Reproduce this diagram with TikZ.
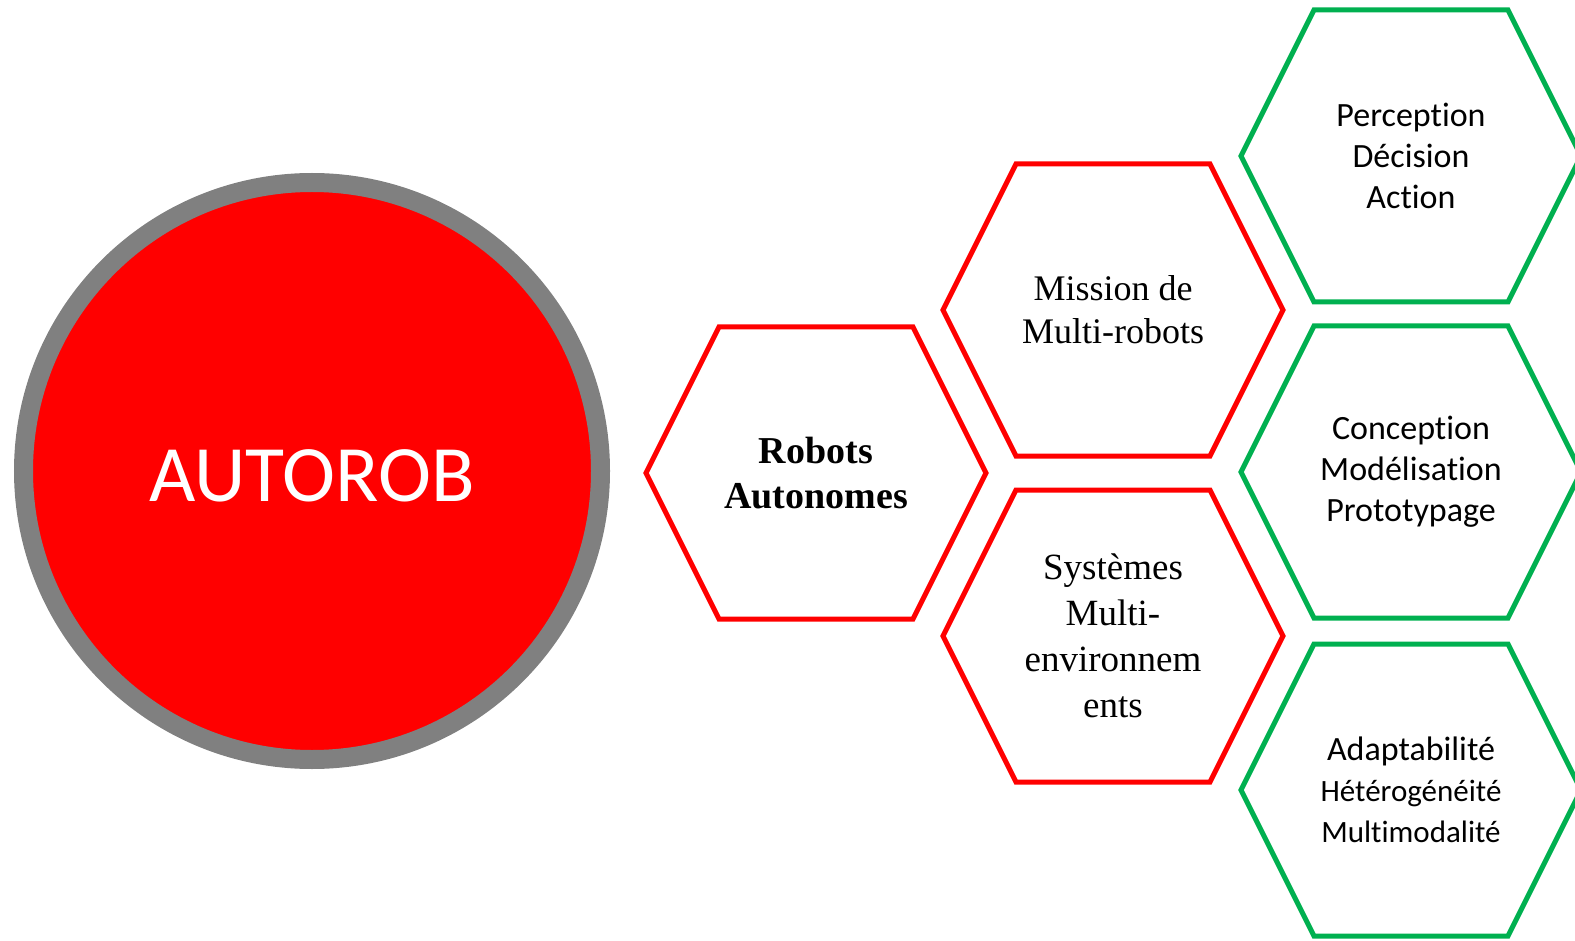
\documentclass[tikz,border=0pt]{standalone}
\usepackage{fontspec}
\setmainfont{Liberation Serif}
\newfontfamily\calibri{Carlito}[Ligatures=NoCommon]
\definecolor{hexred}{RGB}{255,0,0}
\definecolor{hexgreen}{RGB}{0,176,80}
\definecolor{ringgray}{RGB}{128,128,128}
\tikzset{
	redtxt/.style={align=center,font=\fontsize{36}{43}\selectfont},
	greentxt/.style={align=center,font=\calibri\fontsize{34}{41}\selectfont},
	hexline/.style={line width=5pt,line join=miter},
}
\newcommand{\hexagone}[2]{\draw[hexline,#2,shift={(#1.center)}] (-170,0)--(-97,-146)--(97,-146)--(170,0)--(97,146)--(-97,146)--cycle;}
\begin{document}
\begin{tikzpicture}[x=1pt,y=-1pt]
	\useasboundingbox (0,0) rectangle (1575,941);
	\clip (0,0) rectangle (1575,941);
	\node[circle,fill=hexred,draw=ringgray,line width=19pt,minimum size=577pt,inner sep=0] (ring) at (312,471) {};
	\node[text=white,font=\calibri\fontsize{80}{92}\selectfont,inner sep=0] (autorob) at (312,476) {AUTOROB};
	% red hexagons
	\node[redtxt,font=\bfseries\fontsize{38}{45}\selectfont] (robots) at (816,473) {Robots\\Autonomes};
	\node[redtxt] (mission) at (1113,310) {Mission de\\Multi-robots};
	\node[redtxt,font=\fontsize{37}{46}\selectfont] (systemes) at (1113,636) {Systèmes\\Multi-\\environnem\\ents};
	\hexagone{robots}{hexred}
	\hexagone{mission}{hexred}
	\hexagone{systemes}{hexred}
	% green hexagons
	\node[greentxt] (perception) at (1411,156) {Perception\\Décision\\Action};
	\node[greentxt] (conception) at (1411,472) {Conception\\Modélisation\\Prototypage};
	\node[greentxt] (adapt) at (1411,790) {Adaptabilité\\\fontsize{31}{39}\selectfont Hétérogénéité\\\fontsize{31}{37}\selectfont Multimodalité};
	\hexagone{perception}{hexgreen}
	\hexagone{conception}{hexgreen}
	\hexagone{adapt}{hexgreen}
\end{tikzpicture}
\end{document}
